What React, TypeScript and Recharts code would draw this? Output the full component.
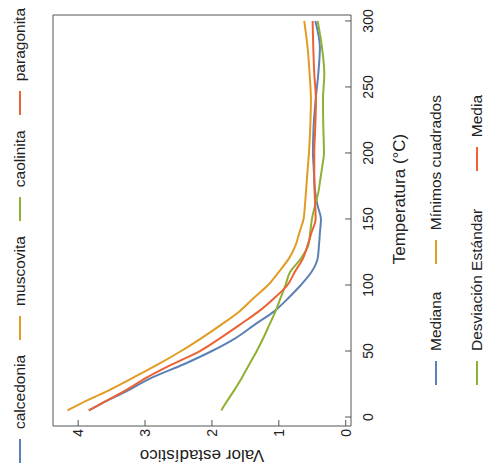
import React from 'react';
import { LineChart, Line, XAxis, YAxis } from 'recharts';

// temperature (°C) sampled along each curve
const temps = [5, 10, 20, 30, 40, 50, 60, 70, 80, 90, 100, 110, 120, 130, 140, 150, 160, 170, 180, 190, 200, 220, 240, 260, 280, 300];

// valor estadístico per mineral
const calcedonia = [3.84, 3.66, 3.26, 2.89, 2.42, 2.0, 1.64, 1.36, 1.07, 0.86, 0.67, 0.51, 0.42, 0.4, 0.385, 0.37, 0.42, 0.455, 0.47, 0.48, 0.49, 0.48, 0.45, 0.41, 0.386, 0.455];
const muscovita = [4.16, 3.97, 3.55, 3.17, 2.8, 2.46, 2.15, 1.86, 1.59, 1.38, 1.16, 1.0, 0.85, 0.75, 0.69, 0.63, 0.61, 0.595, 0.58, 0.565, 0.55, 0.53, 0.52, 0.54, 0.57, 0.62];
const caolinita = [1.86, 1.8, 1.67, 1.55, 1.44, 1.33, 1.23, 1.14, 1.05, 0.975, 0.9, 0.83, 0.67, 0.56, 0.53, 0.505, 0.46, 0.41, 0.38, 0.35, 0.325, 0.335, 0.34, 0.32, 0.355, 0.42];
const paragonita = [3.84, 3.66, 3.3, 2.97, 2.59, 2.18, 1.87, 1.58, 1.3, 1.07, 0.87, 0.76, 0.64, 0.57, 0.51, 0.45, 0.455, 0.465, 0.47, 0.47, 0.47, 0.455, 0.445, 0.47, 0.485, 0.495];

const tempTicks = [0, 50, 100, 150, 200, 250, 300];
const valorTicks = [0, 1, 2, 3, 4];
const tempMinorTicks = Array.from({ length: 31 }, (_, i) => i * 10);
const valorMinorTicks = Array.from({ length: 22 }, (_, i) => Math.round(i * 2) / 10);

const mineralNames = ['calcedonia', 'muscovita', 'caolinita', 'paragonita'];
const statNames = ['Mediana', 'Mínimos cuadrados', 'Desviación Estándar', 'Media'];

const COLORS = ['#5E81B5', '#E19C24', '#8FB032', '#EB6235'];
const AXIS = '#555555';
const TEXT = '#222222';
const FONT = '"Liberation Sans", Arial, sans-serif';

const T_DOMAIN: [number, number] = [-6.8, 304.5];
const V_DOMAIN: [number, number] = [-0.079, 4.376];

const rows = temps.map((t, i) => ({
  t,
  calcedonia: calcedonia[i],
  muscovita: muscovita[i],
  caolinita: caolinita[i],
  paragonita: paragonita[i],
}));

const LegendItem = ({ color, label }: { color: string; label: string }) => (
  <div style={{ display: 'flex', alignItems: 'center' }}>
    <div style={{ width: 24, height: 2, background: color, marginRight: 10 }} />
    <span>{label}</span>
  </div>
);

export default function App() {
  return (
    <div style={{ position: 'absolute', left: 0, top: 0, width: 485, height: 471, overflow: 'hidden', background: '#fff' }}>
      {/* the whole figure is drawn upright, then turned a quarter turn */}
      <div
        style={{
          position: 'absolute',
          left: 0,
          top: 0,
          width: 471,
          height: 485,
          transformOrigin: '0 0',
          transform: 'translateY(471px) rotate(-90deg)',
          fontFamily: FONT,
          color: TEXT,
        }}
      >
        {/* top legend */}
        <div
          style={{
            position: 'absolute',
            left: 0,
            top: 10,
            width: 471,
            height: 20,
            display: 'flex',
            justifyContent: 'center',
            alignItems: 'center',
            gap: 15,
            fontSize: 15.5,
          }}
        >
          {mineralNames.map((n, i) => (
            <LegendItem key={n} color={COLORS[i]} label={n} />
          ))}
        </div>

        <LineChart
          width={471}
          height={485}
          data={rows}
          margin={{ top: 51, right: 13, bottom: 132, left: 43 }}
          style={{ fontFamily: FONT }}
        >
          <XAxis xAxisId="tMinor" type="number" domain={T_DOMAIN} allowDataOverflow ticks={tempMinorTicks} interval={0}
            height={1} tickSize={-3.5} tick={false} axisLine={false} tickLine={{ stroke: AXIS }} />
          <XAxis
            xAxisId="t"
            dataKey="t"
            type="number"
            domain={T_DOMAIN}
            allowDataOverflow
            ticks={tempTicks}
            interval={0}
            height={1}
            tickSize={-6}
            tickMargin={18}
            stroke={AXIS}
            tick={{ fill: TEXT, fontSize: 14 }}
            label={(p: any) => (
              <text x={272} y={399} textAnchor="middle" dominantBaseline="central" fill={TEXT} fontSize={17}>
                Temperatura (°C)
              </text>
            )}
          />
          <XAxis xAxisId="tTopMinor" orientation="top" type="number" domain={T_DOMAIN} allowDataOverflow ticks={tempMinorTicks} interval={0}
            height={1} tickSize={-3.5} tick={false} axisLine={false} tickLine={{ stroke: AXIS }} />
          <XAxis xAxisId="tTop" orientation="top" type="number" domain={T_DOMAIN} allowDataOverflow ticks={tempTicks} interval={0}
            height={1} tickSize={-6} tick={false} stroke={AXIS} />

          <YAxis yAxisId="vMinor" type="number" domain={V_DOMAIN} allowDataOverflow ticks={valorMinorTicks} interval={0}
            width={1} tickSize={-3.5} tick={false} axisLine={false} tickLine={{ stroke: AXIS }} />
          <YAxis
            yAxisId="v"
            type="number"
            domain={V_DOMAIN}
            allowDataOverflow
            ticks={valorTicks}
            interval={0}
            width={1}
            tickSize={-6}
            tickMargin={9}
            stroke={AXIS}
            tick={{ fill: TEXT, fontSize: 14 }}
            label={(p: any) => (
              <text x={16} y={202} transform="rotate(-90 16 202)" textAnchor="middle" dominantBaseline="central" fill={TEXT} fontSize={17}>
                Valor estadístico
              </text>
            )}
          />
          <YAxis yAxisId="vRightMinor" orientation="right" type="number" domain={V_DOMAIN} allowDataOverflow ticks={valorMinorTicks} interval={0}
            width={1} tickSize={-3.5} tick={false} axisLine={false} tickLine={{ stroke: AXIS }} />
          <YAxis yAxisId="vRight" orientation="right" type="number" domain={V_DOMAIN} allowDataOverflow ticks={valorTicks} interval={0}
            width={1} tickSize={-6} tick={false} stroke={AXIS} />

          {mineralNames.map((n, i) => (
            <Line
              key={n}
              type="monotone"
              xAxisId="t"
              yAxisId="v"
              dataKey={n}
              stroke={COLORS[i]}
              strokeWidth={2}
              dot={false}
              isAnimationActive={false}
            />
          ))}
        </LineChart>

        {/* bottom legend */}
        <div style={{ position: 'absolute', left: 86, top: 426, width: 290, fontSize: 15.5 }}>
          <div style={{ display: 'flex', justifyContent: 'space-between', alignItems: 'center', height: 20 }}>
            <LegendItem color={COLORS[0]} label={statNames[0]} />
            <LegendItem color={COLORS[1]} label={statNames[1]} />
          </div>
          <div style={{ display: 'flex', justifyContent: 'space-between', alignItems: 'center', height: 20, marginTop: 21 }}>
            <LegendItem color={COLORS[2]} label={statNames[2]} />
            <LegendItem color={COLORS[3]} label={statNames[3]} />
          </div>
        </div>
      </div>
    </div>
  );
}
